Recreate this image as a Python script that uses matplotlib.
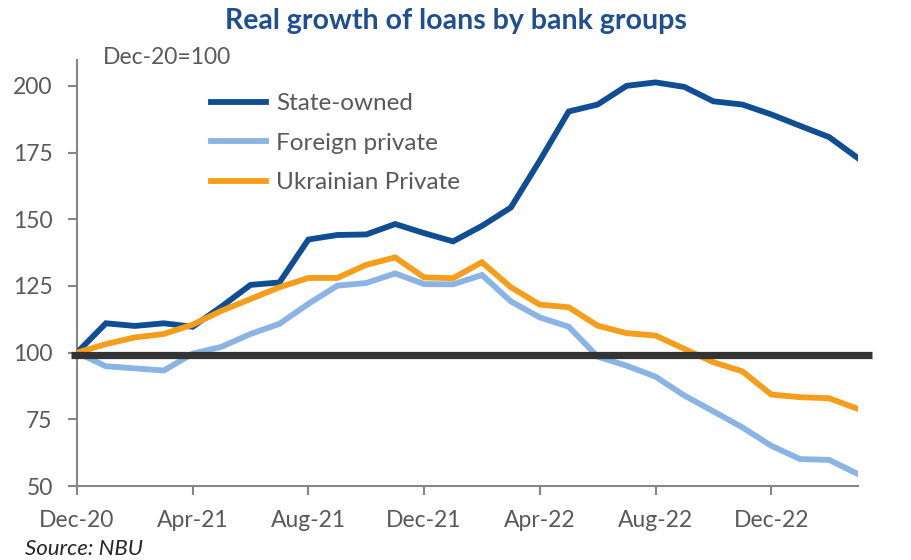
import matplotlib
matplotlib.use("Agg")
import matplotlib.pyplot as plt

plt.rcParams['font.family'] = ['Lato', 'DejaVu Sans']

# Monthly index, Dec-20 = 100
months = ["Dec-20", "Jan-21", "Feb-21", "Mar-21", "Apr-21", "May-21", "Jun-21",
          "Jul-21", "Aug-21", "Sep-21", "Oct-21", "Nov-21", "Dec-21", "Jan-22",
          "Feb-22", "Mar-22", "Apr-22", "May-22", "Jun-22", "Jul-22", "Aug-22",
          "Sep-22", "Oct-22", "Nov-22", "Dec-22", "Jan-23", "Feb-23", "Mar-23"]

state_owned = [100, 111, 110, 111, 109.7, 117.3, 125.4, 126.3, 142.4, 144.1,
               144.3, 148.2, 144.8, 141.7, 147.5, 154.4, 172, 190.4, 193,
               200, 201.3, 199.6, 194.2, 193, 189.3, 185, 180.8, 172.9]

foreign_private = [100, 94.9, 94.1, 93.3, 99.6, 102.2, 107, 110.8, 118.3, 125.1,
                   126.1, 129.7, 125.7, 125.6, 129.1, 119.2, 113.2, 109.7, 98.5,
                   95.1, 91, 83.9, 78, 72, 65.1, 60.1, 59.8, 54.5]

ukrainian_private = [100, 103.2, 105.7, 107, 110.5, 115.7, 120.1, 124.5, 128, 128,
                     132.9, 135.7, 128.2, 127.9, 133.9, 124.5, 118, 117, 110.1,
                     107.3, 106.4, 101.4, 96.4, 93, 84.3, 83.3, 82.9, 78.9]

base_level = 99
y_ticks = [50, 75, 100, 125, 150, 175, 200]
x_tick_labels = ["Dec-20", "Apr-21", "Aug-21", "Dec-21", "Apr-22", "Aug-22", "Dec-22"]

c_state = "#104E93"
c_foreign = "#8AB4E3"
c_ukr = "#F59E1C"
c_text = "#595959"
c_axis = "#868686"

fig = plt.figure(figsize=(9.12, 5.6), dpi=100)
ax = fig.add_axes([0.0844, 0.1321, 0.8564, 0.7608])

x = list(range(len(months)))
ax.plot(x, state_owned, color=c_state, lw=4.2, label="State-owned", solid_joinstyle="miter", zorder=3)
ax.plot(x, foreign_private, color=c_foreign, lw=4.2, label="Foreign private", solid_joinstyle="miter", zorder=3)
ax.plot(x, ukrainian_private, color=c_ukr, lw=4.2, label="Ukrainian Private", solid_joinstyle="miter", zorder=3)
ax.plot([-0.2, len(months) - 0.5], [base_level, base_level], color="#333333", lw=5.2,
        solid_capstyle="butt", clip_on=False, zorder=4)

ax.set_xlim(0, len(months) - 1)
ax.set_ylim(50, 209.7)
ax.set_yticks(y_ticks)
ax.set_yticklabels([str(v) for v in y_ticks])
tick_pos = [months.index(m) for m in x_tick_labels]
ax.set_xticks(tick_pos)
ax.set_xticklabels(x_tick_labels)

for side in ["top", "right"]:
    ax.spines[side].set_visible(False)
for side in ["left", "bottom"]:
    ax.spines[side].set_color(c_axis)
    ax.spines[side].set_linewidth(1.5)

ax.tick_params(axis="both", colors=c_axis, labelcolor=c_text, labelsize=16.5,
               length=6.5, width=1.5, direction="out")
ax.tick_params(axis="x", pad=11)
ax.tick_params(axis="y", pad=11)

fig.text(103 / 912, 1 - 64 / 560, "Dec-20=100", color=c_text,
         fontsize=16.5, ha="left", va="baseline")

fig.text(0.5, 0.962, "Real growth of loans by bank groups", ha="center", va="center",
         color="#1F4E91", fontsize=20.5, fontweight="bold")
fig.text(0.027, 0.02, "Source: NBU", ha="left", va="center", fontsize=16,
         style="italic", color="#262626")

leg = ax.legend(loc="upper left", bbox_to_anchor=(0.1716, 0.922), frameon=False,
                fontsize=17.5, handlelength=2.25, labelspacing=0.76, handletextpad=0.42,
                borderpad=0, borderaxespad=0)
for t in leg.get_texts():
    t.set_color(c_text)

fig.savefig("out.png", dpi=100)
